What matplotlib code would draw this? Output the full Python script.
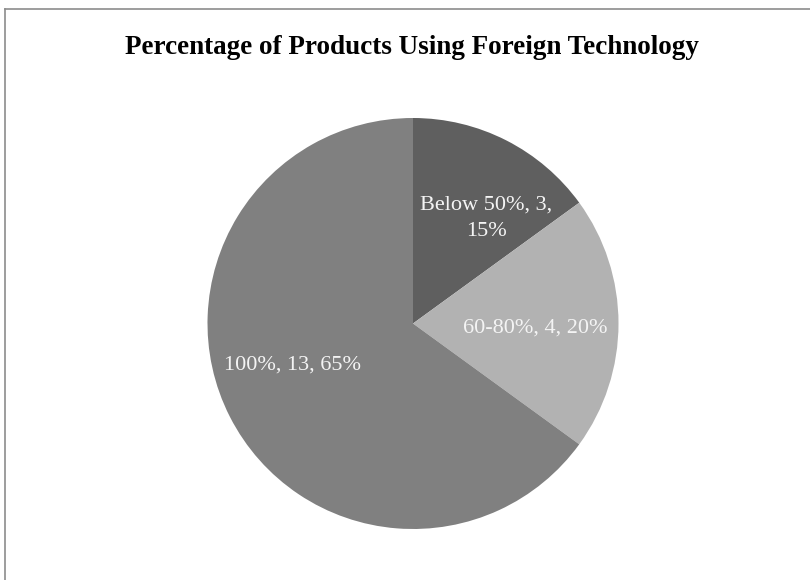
import matplotlib
matplotlib.use("Agg")
import matplotlib.pyplot as plt
from matplotlib.lines import Line2D

categories = ["Below 50%", "60-80%", "100%"]
counts = [3, 4, 13]
percents = [15, 20, 65]
colors = ["#5f5f5f", "#b2b2b2", "#808080"]
title = "Percentage of Products Using Foreign Technology"

# label layout: lines of each label and their baseline anchors in pixels
label_lines = [["Below 50%, 3,", "15%"], ["60-80%, 4, 20%"], ["100%, 13, 65%"]]
label_anchor_px = [[(486, 210), (486, 236)], [(535, 333)], [(292, 370)]]

plt.rcParams['font.family'] = ['Liberation Serif', 'DejaVu Serif']

W, H = 810, 580
fig = plt.figure(figsize=(W / 100, H / 100), dpi=100)
fig.patch.set_facecolor("white")

cx, cy, r = 413, 323.5, 205.5
ax = fig.add_axes([(cx - r) / W, (H - cy - r) / H, 2 * r / W, 2 * r / H])
wedges, _ = ax.pie(counts, colors=colors, startangle=90, counterclock=False,
                   wedgeprops=dict(linewidth=0), radius=1)
ax.set_xlim(-1, 1)
ax.set_ylim(-1, 1)
ax.set_aspect("equal")
ax.axis("off")

for lines, anchors in zip(label_lines, label_anchor_px):
    for t, (px, py) in zip(lines, anchors):
        ax.text((px - cx) / r, (cy - py) / r, t, ha="center", va="baseline",
                fontsize=16, color="#f4f4f4")

fig.text(412 / W, 1 - 53.5 / H, title, ha="center", va="baseline",
         fontsize=19.5, fontweight="bold", color="black")

# chart border (top and left visible)
fig.add_artist(Line2D([5 / W, 1.0], [1 - 9 / H, 1 - 9 / H], color="#8c8c8c",
                      linewidth=1.2, transform=fig.transFigure))
fig.add_artist(Line2D([5 / W, 5 / W], [0, 1 - 9 / H], color="#8c8c8c",
                      linewidth=1.2, transform=fig.transFigure))

fig.savefig("out.png", dpi=100)
